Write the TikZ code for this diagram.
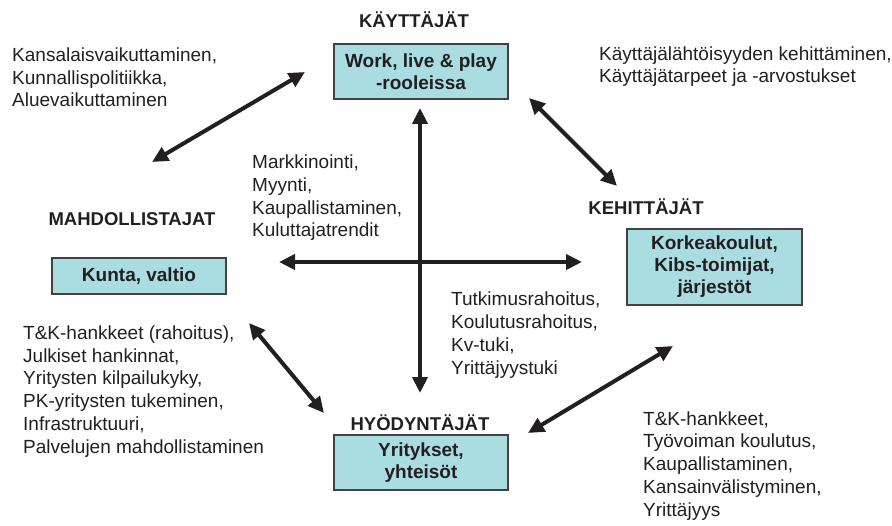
\documentclass[tikz,border=0pt]{standalone}
\usepackage{fontspec}
\setmainfont{Liberation Sans}
\usetikzlibrary{arrows.meta}
\definecolor{boxfill}{RGB}{170,221,225}
\definecolor{ink}{RGB}{35,31,32}
\tikzset{
  rolebox/.style={draw=ink!85, line width=1.3bp, fill=boxfill, text=ink, align=center,
    font=\bfseries\fontsize{19bp}{22bp}\selectfont, inner sep=0pt},
  rolelabel/.style={text=ink, font=\bfseries\fontsize{18.5bp}{22bp}\selectfont, inner sep=0pt},
  info/.style={text=ink, align=left, anchor=base west, inner sep=0pt,
    font=\fontsize{19bp}{22.7bp}\selectfont},
  link/.style={draw=ink, line width=4bp, {Triangle[length=16bp,width=15bp]}-{Triangle[length=16bp,width=15bp]}}
}
\begin{document}
\begin{tikzpicture}[x=1bp,y=-1bp]
\useasboundingbox (0,0) rectangle (892,526);
% boxes
\node[rolebox, minimum width=174bp, minimum height=55bp] (users) at (421,71.5) {Work, live \& play\\-rooleissa};
\node[rolebox, minimum width=174bp, minimum height=36bp] (enablers) at (139,276) {Kunta, valtio};
\node[rolebox, minimum width=175bp, minimum height=76bp] (developers) at (714.5,267) {Korkeakoulut,\\Kibs-toimijat,\\järjestöt};
\node[rolebox, minimum width=174bp, minimum height=55bp] (exploiters) at (421,462.5) {Yritykset,\\yhteisöt};
% labels
\node[rolelabel] (lusers) at (414,20) {KÄYTTÄJÄT};
\node[rolelabel] (lenablers) at (132,219) {MAHDOLLISTAJAT};
\node[rolelabel] (ldevelopers) at (646,207) {KEHITTÄJÄT};
\node[rolelabel] (lexploiters) at (420,423) {HYÖDYNTÄJÄT};
% text blocks (anchor = baseline of the last line)
\node[info] (t1) at (12,107) {Kansalaisvaikuttaminen,\\Kunnallispolitiikka,\\Aluevaikuttaminen};
\node[info] (t2) at (599,83) {Käyttäjälähtöisyyden kehittäminen,\\Käyttäjätarpeet ja -arvostukset};
\node[info] (t3) at (252,237) {Markkinointi,\\Myynti,\\Kaupallistaminen,\\Kuluttajatrendit};
\node[info] (t4) at (451,374) {Tutkimusrahoitus,\\Koulutusrahoitus,\\Kv-tuki,\\Yrittäjyystuki};
\node[info] (t5) at (23,453) {T\&K-hankkeet (rahoitus),\\Julkiset hankinnat,\\Yritysten kilpailukyky,\\PK-yritysten tukeminen,\\Infrastruktuuri,\\Palvelujen mahdollistaminen};
\node[info] (t6) at (643,516) {T\&K-hankkeet,\\Työvoiman koulutus,\\Kaupallistaminen,\\Kansainvälistyminen,\\Yrittäjyys};
% arrow end points
\coordinate (vt) at (420,108);
\coordinate (vb) at (420,393);
\coordinate (hl) at (279,262);
\coordinate (hr) at (582,262);
\coordinate (a1) at (305,72);
\coordinate (a2) at (152,162);
\coordinate (b1) at (529,98);
\coordinate (b2) at (617,186);
\coordinate (c1) at (249,323);
\coordinate (c2) at (324,413);
\coordinate (d1) at (528,433);
\coordinate (d2) at (673,346);
\draw[link] (vt) -- (vb);
\draw[link] (hl) -- (hr);
\draw[link] (a1) -- (a2);
\draw[link] (b1) -- (b2);
\draw[link] (c1) -- (c2);
\draw[link] (d1) -- (d2);
\end{tikzpicture}
\end{document}
